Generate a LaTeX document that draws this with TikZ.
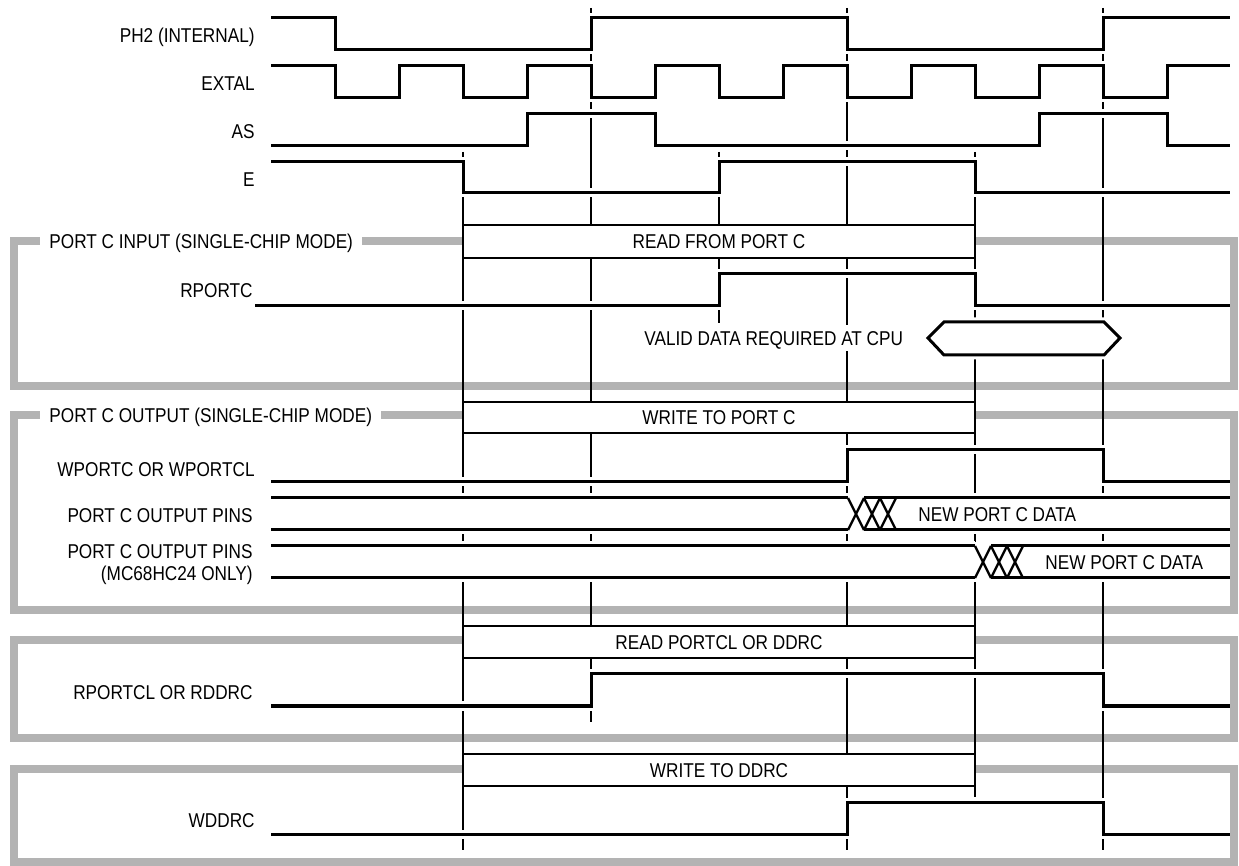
\documentclass[tikz,border=0pt]{standalone}
\usepackage{fontspec}
\setmainfont{Liberation Sans}[FakeStretch=0.86]
\definecolor{framegrey}{HTML}{B3B3B3}
\newcommand{\diafont}{\fontsize{10}{11}\selectfont}
\tikzset{
  sig/.style={line width=1.5pt, preaction={draw=white, line width=4.5pt}},
  guide/.style={line width=1pt},
  greyframe/.style={draw=framegrey, line width=4pt},
  cyclebox/.style={draw, line width=0.85pt, fill=white},
  busx/.style={line width=1.2pt},
  siglabel/.style={anchor=east, inner sep=0pt, font=\diafont, text height=7.2pt, text depth=0pt},
  boxlabel/.style={inner sep=0pt, font=\diafont, text height=7.2pt, text depth=0pt},
  title/.style={anchor=west, fill=white, inner xsep=4.5pt, inner ysep=1pt, font=\diafont, text height=7.2pt, text depth=0pt},
}

\begin{document}
\begin{tikzpicture}[x=0.5pt,y=-0.5pt]
  \useasboundingbox (0,0) rectangle (1239,866);

  % Frames
  \draw[greyframe] (14,241) rectangle (1234,386);
  \draw[greyframe] (14,415) rectangle (1234,610);
  \draw[greyframe] (14,640) rectangle (1234,738);
  \draw[greyframe] (14,769) rectangle (1234,862);

  % Reference lines
  \foreach \x/\ya/\yb in {463/152/850, 591/8/722, 719/152/323, 847/8/850, 975/152/797, 1103/8/850}
    \draw[guide] (\x,\ya) -- (\x,\yb);

  % Cycle boxes
  \draw[cyclebox] (463,225) rectangle (975,258);
  \node[boxlabel] (readc) at (719,241.5) {READ FROM PORT C};
  \draw[cyclebox] (463,402) rectangle (975,433);
  \node[boxlabel] (writec) at (719,417.5) {WRITE TO PORT C};
  \draw[cyclebox] (463,626) rectangle (975,658);
  \node[boxlabel] (readcl) at (719,642) {READ PORTCL OR DDRC};
  \draw[cyclebox] (463,754) rectangle (975,786);
  \node[boxlabel] (writeddrc) at (719,770) {WRITE TO DDRC};

  % Frame titles
  \node[title] (intitle) at (40,241) {PORT C INPUT (SINGLE-CHIP MODE)};
  \node[title] (outtitle) at (40,415) {PORT C OUTPUT (SINGLE-CHIP MODE)};

  % Clocks
  \draw[sig] (271,18) -- (335,18) -- (335,50) -- (591,50) -- (591,18) -- (847,18)
    -- (847,50) -- (1103,50) -- (1103,18) -- (1230,18);
  \draw[sig] (271,66) \foreach \i in {0,...,6} {
      -- ({335+128*\i},66) -- ({335+128*\i},98) -- ({399+128*\i},98) -- ({399+128*\i},66)
    } -- (1230,66);
  \draw[sig] (271,146) -- (527,146) -- (527,114) -- (655,114) -- (655,146)
    -- (1039,146) -- (1039,114) -- (1167,114) -- (1167,146) -- (1230,146);
  \draw[sig] (271,162) -- (463,162) -- (463,193) -- (719,193) -- (719,162)
    -- (975,162) -- (975,193) -- (1230,193);

  % Strobes
  \draw[sig] (255,306) -- (719,306) -- (719,274) -- (975,274) -- (975,306) -- (1230,306);
  \draw[sig] (271,482) -- (847,482) -- (847,450) -- (1103,450) -- (1103,482) -- (1230,482);
  \draw[sig] (271,706) -- (591,706) -- (591,674) -- (1103,674) -- (1103,706) -- (1230,706);
  \draw[sig] (271,834) -- (847,834) -- (847,802) -- (1103,802) -- (1103,834) -- (1230,834);

  % Valid data window
  \draw[sig, fill=white] (928,338) -- (944,322) -- (1104,322) -- (1120,338)
    -- (1104,355) -- (944,355) -- cycle;
  \node[boxlabel, anchor=west, fill=white, inner xsep=2pt, inner ysep=3pt] (valid) at (640,338)
    {VALID DATA REQUIRED AT CPU};

  % Output pins
  \fill[white] (271,494) rectangle (1230,534);
  \draw[sig] (271,498) -- (848,498) (864,498) -- (1230,498);
  \draw[sig] (271,530) -- (848,530) (864,530) -- (1230,530);
  \foreach \x in {848,864,880}
    \draw[busx] (\x,498) -- ++(16,32) (\x,530) -- ++(16,-32);
  \node[boxlabel, anchor=west] (newc) at (918,514) {NEW PORT C DATA};

  \fill[white] (271,542) rectangle (1230,582);
  \draw[sig] (271,546) -- (975,546) (991,546) -- (1230,546);
  \draw[sig] (271,578) -- (975,578) (991,578) -- (1230,578);
  \foreach \x in {975,991,1007}
    \draw[busx] (\x,546) -- ++(16,32) (\x,578) -- ++(16,-32);
  \node[boxlabel, anchor=west] (newhc) at (1045,562) {NEW PORT C DATA};

  % Signal names
  \node[siglabel] (ph2) at (255,35) {PH2 (INTERNAL)};
  \node[siglabel] (extal) at (255,83) {EXTAL};
  \node[siglabel] (as) at (255,131) {AS};
  \node[siglabel] (e) at (255,179) {E};
  \node[siglabel] (rportc) at (253,290) {RPORTC};
  \node[siglabel] (wportc) at (255,469) {WPORTC OR WPORTCL};
  \node[siglabel] (pins) at (253,515) {PORT C OUTPUT PINS};
  \node[siglabel, align=right] (pinshc) at (253,573) {PORT C OUTPUT PINS\\(MC68HC24 ONLY)};
  \node[siglabel] (rportcl) at (253,692) {RPORTCL OR RDDRC};
  \node[siglabel] (wddrc) at (255,820) {WDDRC};
\end{tikzpicture}
\end{document}
